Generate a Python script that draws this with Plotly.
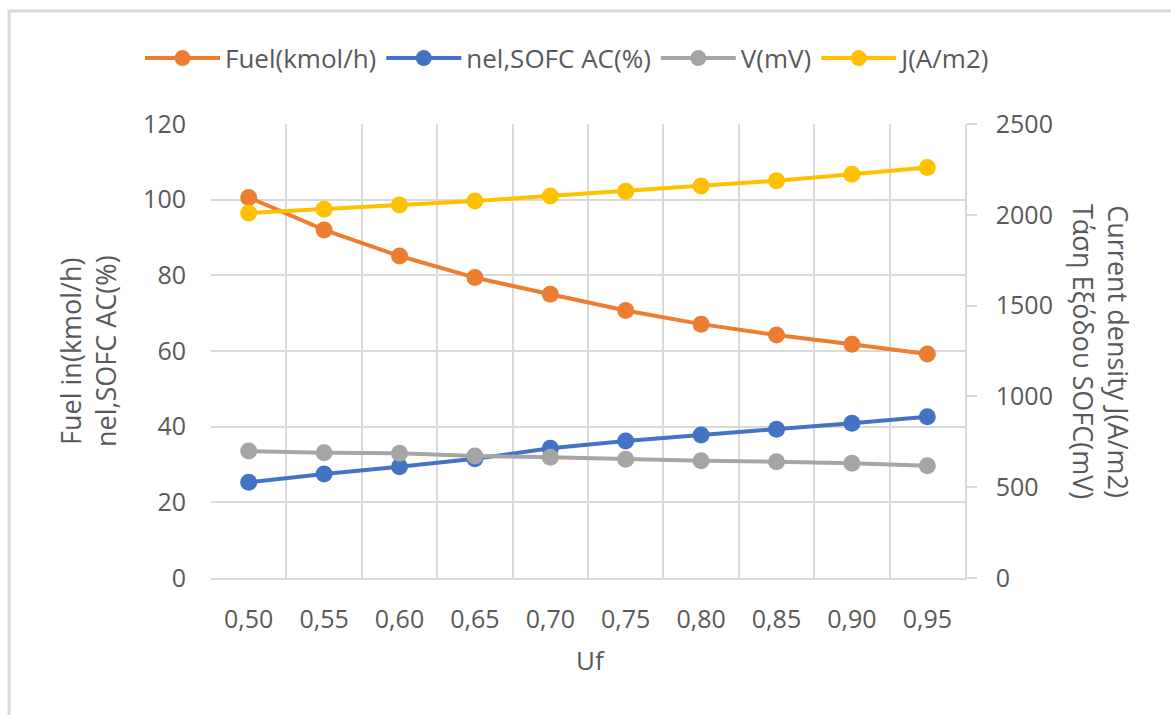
import plotly.graph_objects as go

uf_labels = ["0,50", "0,55", "0,60", "0,65", "0,70", "0,75", "0,80", "0,85", "0,90", "0,95"]
fuel = [100.6, 92.0, 85.1, 79.4, 75.0, 70.7, 67.1, 64.2, 61.8, 59.2]
nel = [25.3, 27.5, 29.4, 31.5, 34.3, 36.2, 37.8, 39.3, 40.9, 42.6]
volt = [699, 690, 687, 672, 665, 654, 646, 640, 632, 618]
jden = [2010, 2030, 2054, 2076, 2104, 2129, 2159, 2188, 2223, 2260]

FONT = "Open Sans"
TXT = "#595959"
GRID = "#D9D9D9"

fig = go.Figure()
series = [
    ("Fuel(kmol/h)", fuel, "#ED7D31", "y"),
    ("nel,SOFC AC(%)", nel, "#4472C4", "y"),
    ("V(mV)", volt, "#A5A5A5", "y2"),
    ("J(A/m2)", jden, "#FFC000", "y2"),
]
for name, vals, col, ax in series:
    fig.add_trace(go.Scatter(
        x=uf_labels, y=vals, name=name, yaxis=ax, mode="lines+markers",
        line=dict(color=col, width=4), marker=dict(color=col, size=17),
    ))

fig.update_layout(
    width=1171, height=715,
    margin=dict(l=211, r=206, t=124, b=137),
    paper_bgcolor="white", plot_bgcolor="white",
    font=dict(family=FONT, color=TXT, size=25),
    showlegend=True,
    legend=dict(orientation="h", x=(140 - 211) / 754, xanchor="left", y=1.145, yanchor="middle",
                font=dict(size=26, color=TXT), itemwidth=75, traceorder="normal"),
    xaxis=dict(type="category", range=[-0.5, 9.5], tickson="boundaries", showgrid=True,
               gridcolor=GRID, gridwidth=1.5,
               showline=True, linecolor=GRID, linewidth=1.5, ticks="", ticklabelstandoff=18,
               tickfont=dict(size=25, color=TXT), zeroline=False),
    yaxis=dict(range=[0, 120], dtick=20, showgrid=True, gridcolor=GRID, gridwidth=1.5,
               zeroline=False, showline=False, ticks="", ticklabelstandoff=24,
               tickfont=dict(size=25, color=TXT)),
    yaxis2=dict(range=[0, 2500], dtick=500, overlaying="y", side="right", showgrid=False,
                zeroline=False, showline=True, linecolor=GRID, linewidth=1.5,
                ticks="outside", ticklen=10, tickcolor=GRID, tickwidth=1.5, ticklabelstandoff=14,
                tickfont=dict(size=25, color=TXT)),
)

fig.add_annotation(text="Uf", xref="paper", yref="paper", x=(590 - 211) / 754, y=(578 - 660) / 454,
                   showarrow=False, font=dict(size=26, color=TXT), xanchor="center", yanchor="middle")
fig.add_annotation(text="Fuel in(kmol/h)<br>nel,SOFC AC(%)", xref="paper", yref="paper",
                   x=(88 - 211) / 754, y=0.5, textangle=-90, showarrow=False,
                   font=dict(size=27, color=TXT), xanchor="center", yanchor="middle")
fig.add_annotation(text="Current density J(A/m2)<br>Τάση Εξόδου SOFC(mV)", xref="paper", yref="paper",
                   x=(1101 - 211) / 754, y=0.5, textangle=90, showarrow=False,
                   font=dict(size=27, color=TXT), xanchor="center", yanchor="middle")

fig.add_shape(type="rect", xref="paper", yref="paper",
              x0=(9 - 211) / 754, x1=(1180 - 211) / 754,
              y0=(578 - 725) / 454, y1=(578 - 11) / 454,
              line=dict(color="#D9D9D9", width=3), fillcolor="rgba(0,0,0,0)", layer="below")

fig.write_html("out.html")
